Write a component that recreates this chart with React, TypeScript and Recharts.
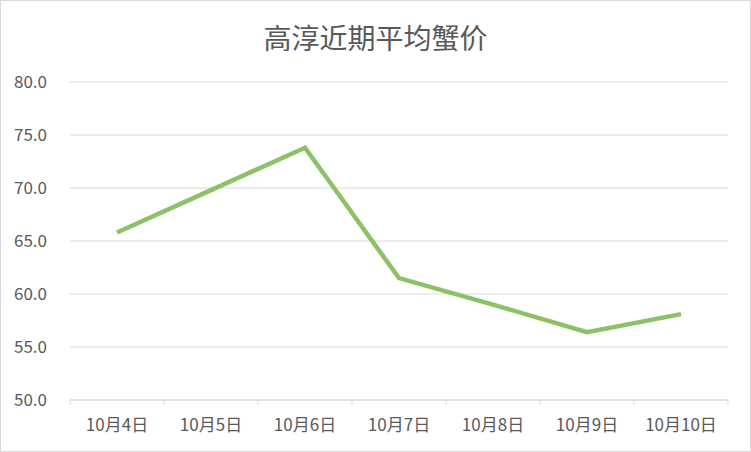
import { LineChart, Line, XAxis, YAxis, CartesianGrid } from "recharts";

const dates = ["10月4日", "10月5日", "10月6日", "10月7日", "10月8日", "10月9日", "10月10日"];
const prices = [65.8, 69.8, 73.8, 61.5, 59.0, 56.4, 58.1];
const yTicks = [50, 55, 60, 65, 70, 75, 80];

const rows = dates.map((d, i) => ({ date: d, price: prices[i] }));

const W = 751;
const H = 452;
const LEFT = 69;
const RIGHT = 22;
const BAND = (W - 2 - LEFT - RIGHT) / dates.length;
const FONT = "'Noto Sans CJK SC', 'Noto Sans', sans-serif";

// Excel-style ticks sit on category boundaries, not on centres
function DateTick(props: any) {
  const { x, y, payload, index } = props;
  const left = x - BAND / 2;
  return (
    <g>
      <line x1={left} y1={y - 8} x2={left} y2={y - 3} stroke="#d9d9d9" />
      {index === dates.length - 1 && (
        <line x1={left + BAND} y1={y - 8} x2={left + BAND} y2={y - 3} stroke="#d9d9d9" />
      )}
      <text x={x} y={y + 23} textAnchor="middle" fill="#595959" fontSize={17} fontFamily={FONT}>
        {payload.value}
      </text>
    </g>
  );
}

export default function App() {
  return (
    <div
      style={{
        position: "absolute",
        left: 0,
        top: 0,
        width: W,
        height: H,
        boxSizing: "border-box",
        border: "1px solid #d9d9d9",
        background: "#fff",
      }}
    >
      <div
        style={{
          position: "absolute",
          top: 22,
          left: 0,
          width: W - 2,
          textAlign: "center",
          fontSize: 28,
          lineHeight: "28px",
          color: "#595959",
          fontFamily: FONT,
        }}
      >
        高淳近期平均蟹价
      </div>
      <LineChart
        width={W - 2}
        height={H - 2}
        data={rows}
        margin={{ top: 81, right: RIGHT, left: 0, bottom: 0 }}
        style={{ position: "absolute", left: 0, top: 0 }}
      >
        <CartesianGrid vertical={false} stroke="#d9d9d9" strokeWidth={1} />
        <XAxis
          dataKey="date"
          height={51}
          padding={{ left: BAND / 2, right: BAND / 2 }}
          axisLine={{ stroke: "#d9d9d9" }}
          tickLine={false}
          tick={<DateTick />}
          interval={0}
        />
        <YAxis
          width={LEFT}
          domain={[50, 80]}
          ticks={yTicks}
          axisLine={false}
          tickLine={false}
          tickMargin={17}
          tickFormatter={(v: number) => v.toFixed(1)}
          tick={{ fill: "#595959", fontSize: 17, fontFamily: FONT }}
        />
        <Line
          type="linear"
          dataKey="price"
          stroke="#8cc168"
          strokeWidth={4.5}
          dot={false}
          isAnimationActive={false}
        />
      </LineChart>
    </div>
  );
}
